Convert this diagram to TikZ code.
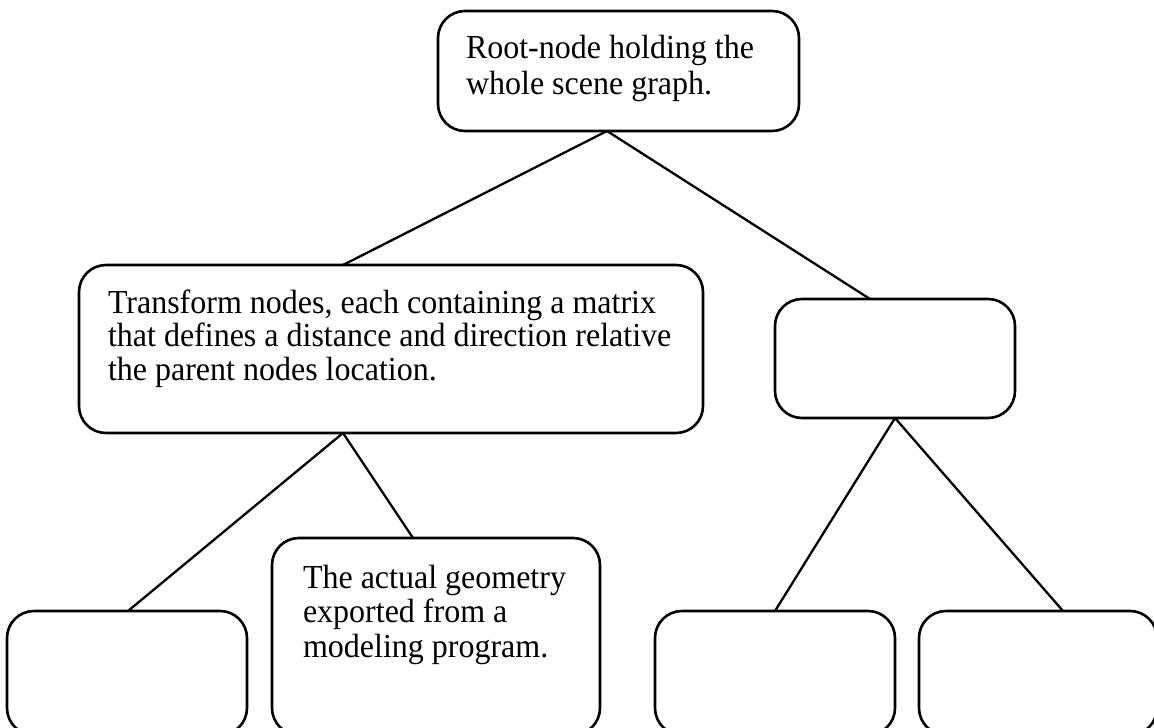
\documentclass[tikz,border=0pt]{standalone}
\usepackage{fontspec}
\usepackage{graphicx}
\setmainfont{Liberation Serif}
\newcommand{\stretchtext}[2]{\scalebox{1}[1.05]{\parbox[t]{640pt}{\raggedright\fontsize{32}{#1}\selectfont #2}}}
\begin{document}
\begin{tikzpicture}[x=1pt,y=-1pt,
  box/.style={draw=black, line width=2.6pt, rounded corners=27pt, rectangle, inner sep=0pt, outer sep=0pt},
  link/.style={draw=black, line width=2.3pt},
  txt/.style={inner sep=0pt, outer sep=0pt, anchor=base west}
]
\useasboundingbox (0,0) rectangle (1154,728);
\fill[white] (0,0) rectangle (1154,728);
\clip (0,0) rectangle (1154,728);

% boxes
\node[box, minimum width=361pt, minimum height=120pt] (root) at (618.5,71) {};
\node[box, minimum width=624pt, minimum height=168pt] (trans) at (391,349) {};
\node[box, minimum width=240pt, minimum height=119pt] (rbox) at (895,358.5) {};
\node[box, minimum width=240pt, minimum height=124pt] (b1) at (127,673) {};
\node[box, minimum width=328pt, minimum height=197pt] (b2) at (436,636.5) {};
\node[box, minimum width=240pt, minimum height=124pt] (b3) at (775,673) {};
\node[box, minimum width=238pt, minimum height=124pt] (b4) at (1038,673) {};

% texts
\node[txt] (roottext) at (466,58) {\stretchtext{34.3}{Root-node holding the\\whole scene graph.}};
\node[txt] (transtext) at (108,313) {\stretchtext{32}{Transform nodes, each containing a matrix\\that defines a distance and direction relative\\the parent nodes location.}};
\node[txt] (geomtext) at (303,588) {\stretchtext{33.3}{The actual geometry\\exported from a\\modeling program.}};

% connection points
\coordinate (rootp) at ([xshift=169pt]root.south west);
\coordinate (transn) at ([xshift=264pt]trans.north west);
\coordinate (transs) at ([xshift=264pt]trans.south west);
\coordinate (rboxn) at ([xshift=95pt]rbox.north west);
\coordinate (rboxs) at ([xshift=120pt]rbox.south west);
\coordinate (b1n) at ([xshift=121pt]b1.north west);
\coordinate (b2n) at ([xshift=141pt]b2.north west);
\coordinate (b3n) at ([xshift=120pt]b3.north west);
\coordinate (b4n) at ([xshift=144pt]b4.north west);

% connectors
\draw[link] (rootp) -- (transn);
\draw[link] (rootp) -- (rboxn);
\draw[link] (transs) -- (b1n);
\draw[link] (transs) -- (b2n);
\draw[link] (rboxs) -- (b3n);
\draw[link] (rboxs) -- (b4n);
\end{tikzpicture}
\end{document}
